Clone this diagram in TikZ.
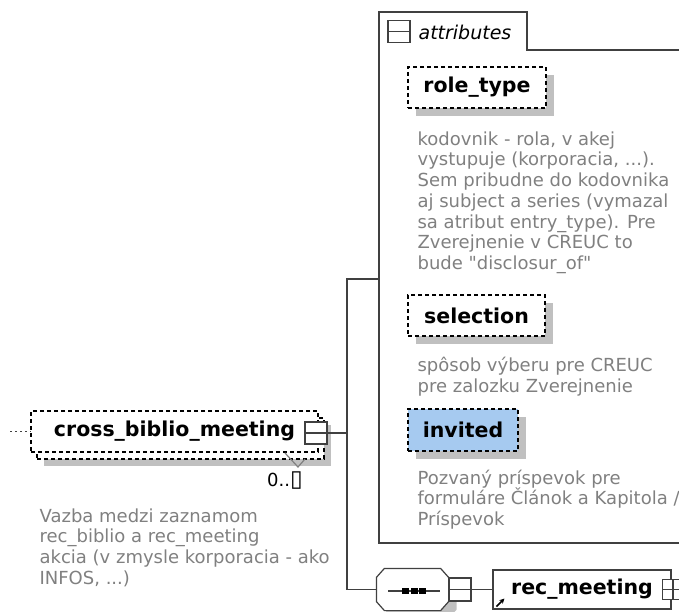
\documentclass[tikz,border=0pt]{standalone}
\usepackage{fontspec}
\setmainfont{DejaVu Sans}
\usetikzlibrary{arrows.meta}

\definecolor{shadowgray}{HTML}{C0C0C0}
\definecolor{docgray}{HTML}{808080}
\definecolor{linegray}{HTML}{404040}
\definecolor{optblue}{HTML}{A6CAF0}

\tikzset{
  wire/.style={draw=linegray},
  shadowed/.style={preaction={fill=shadowgray, transform canvas={shift={(8pt,-8pt)}}}},
  attr/.style={shadowed, draw=black, dash pattern=on 4pt off 3pt, fill=white,
    font=\bfseries\fontsize{20.5}{24}\selectfont, minimum height=41pt, inner sep=0pt},
  doc/.style={anchor=north west, align=left, inner sep=0pt, text=docgray,
    font=\fontsize{18}{20.7}\selectfont},
  minusbox/.style={draw=linegray, fill=white, minimum size=22pt, inner sep=0pt,
    path picture={\draw[linegray] (path picture bounding box.west) -- (path picture bounding box.east);}},
  plusbox/.style={minusbox,
    path picture={\draw[linegray] (path picture bounding box.west) -- (path picture bounding box.east);
                  \draw[linegray] (path picture bounding box.north) -- (path picture bounding box.south);}},
}

\begin{document}
\begin{tikzpicture}[x=1pt, y=-1pt, line width=1.2pt]
  \useasboundingbox (0,0) rectangle (679,612);
  \clip (0,0) rectangle (679,612);

  % attributes frame
  \draw[wire] (690,50) -- (527,50) -- (527,12) -- (379,12) -- (379,543) -- (690,543);
  \node[minusbox] (attrminus) at (399,31.5) {};
  \node[anchor=base west, inner sep=0pt, font=\itshape\fontsize{19}{20}\selectfont] (attrlabel) at (418,40) {attributes};

  \node[attr, minimum width=138pt] (roletype) at (477,87.5) {role\_type};
  \node[doc] (roletypedoc) at (417,131) {kodovnik - rola, v akej\\vystupuje (korporacia, ...).\\Sem pribudne do kodovnika\\aj subject a series (vymazal\\sa atribut entry\_type). Pre\\Zverejnenie v CREUC to\\bude \textquotedbl disclosur\_of\textquotedbl};

  \node[attr, minimum width=137pt] (selection) at (476.5,315.5) {selection};
  \node[doc] (selectiondoc) at (417,357) {spôsob výberu pre CREUC\\pre zalozku Zverejnenie};

  \node[attr, fill=optblue, minimum width=110pt, minimum height=42pt] (invited) at (463,430) {invited};
  \node[doc] (inviteddoc) at (417,469) {Pozvaný príspevok pre\\formuláre Článok a Kapitola /\\Príspevok};

  % element with repeated box
  \node[draw=black, dash pattern=on 4pt off 3pt, fill=white, font=\bfseries\fontsize{20.5}{24}\selectfont,
        minimum width=287pt, minimum height=41pt, inner sep=0pt,
        preaction={fill=shadowgray, transform canvas={shift={(13pt,-14pt)}}},
        preaction={draw=black, dash pattern=on 4pt off 3pt, fill=white, transform canvas={shift={(6pt,-7pt)}}}]
        (cross) at (174.5,431.5) {cross\_biblio\_meeting\hspace{8pt}};
  \node[minusbox] (crossminus) at (316,433) {};
  \draw[docgray] (285,453) -- (298,467) -- (305,459);
  \node[inner sep=0pt, font=\fontsize{18}{20}\selectfont] (crosscard) at (285,481) {0..{\fontsize{23}{23}\selectfont ▯}};
  \node[doc] (crossdoc) at (39,508) {Vazba medzi zaznamom\\rec\_biblio a rec\_meeting\\akcia (v zmysle korporacia - ako\\INFOS, ...)};

  % sequence
  \node[minimum width=71pt, minimum height=41pt, inner sep=0pt] (seq) at (412.5,589.5) {};
  \draw[wire, fill=white, shadowed]
    ([xshift=8pt]seq.north west) -- ([xshift=-8pt]seq.north east) -- ([yshift=-9pt]seq.north east)
    -- ([yshift=9pt]seq.south east) -- ([xshift=-8pt]seq.south east) -- ([xshift=8pt]seq.south west)
    -- ([yshift=9pt]seq.south west) -- ([yshift=-9pt]seq.north west) -- cycle;
  \draw[wire] ([xshift=-24.5pt,yshift=-1.5pt]seq.center) -- ([xshift=27.5pt,yshift=-1.5pt]seq.center);
  \foreach \i in {0,1,2}
    \fill[black] ([xshift=-10.5pt+\i*8.5pt, yshift=-4.5pt]seq.center) rectangle ++(7pt,6pt);
  \node[minusbox, minimum height=23pt] (seqminus) at (460,589.5) {};

  \node[draw=linegray, fill=white, minimum width=178pt, minimum height=39pt, inner sep=0pt,
        font=\bfseries\fontsize{20.5}{24}\selectfont] (recmeeting) at (582,589.5) {rec\_meeting};
  \node[plusbox, minimum width=21pt, minimum height=20pt] (recplus) at (673,589.5) {};
  \draw[-{Stealth[length=5pt,width=5pt]}, line width=1.5pt] ([xshift=4pt,yshift=3pt]recmeeting.south west) -- ++(8pt,8pt);

  % connectors
  \coordinate (crossin) at (10,431.5);
  \coordinate (spinetop) at (347,279);
  \coordinate (attrin) at (379,279);
  \draw[wire, dash pattern=on 2pt off 3pt] (crossin) -- (cross.west);
  \draw[wire] (crossminus.east) -- (crossminus.east -| spinetop);
  \draw[wire] (attrin) -- (spinetop) |- (seq.west);
  \draw[wire] (seqminus.east) -- (recmeeting.west);
\end{tikzpicture}
\end{document}
